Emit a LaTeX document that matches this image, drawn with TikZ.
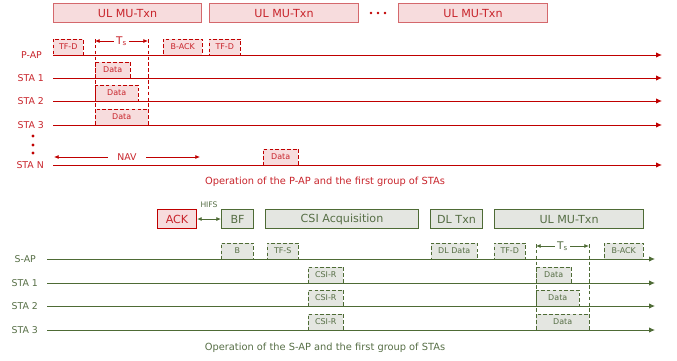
\documentclass[tikz,border=0pt]{standalone}
\usepackage{fontspec}
\setmainfont{DejaVu Sans}
\usetikzlibrary{arrows.meta,positioning}
\definecolor{apred}{HTML}{C00000}
\definecolor{aptext}{HTML}{C8242B}
\definecolor{apfill}{HTML}{F7DCDD}
\definecolor{apline}{HTML}{D4686C}
\definecolor{sapgreen}{HTML}{4E6B35}
\definecolor{saptext}{HTML}{566E45}
\definecolor{sapfill}{HTML}{E4E6E1}
\newlength\pxu
\setlength\pxu{0.03cm}

\tikzset{
  redphase/.style={draw=apline, fill=apfill, text=aptext, line width=0.9pt,
    anchor=north west, minimum height=19\pxu, inner sep=0pt,
    font=\fontsize{9.5}{10}\selectfont},
  greenphase/.style={draw=sapgreen, fill=sapfill, text=saptext, line width=0.9pt,
    anchor=north west, minimum height=19\pxu, inner sep=0pt,
    font=\fontsize{9.5}{10}\selectfont},
  redframe/.style={draw=apred, densely dashed, fill=apfill, text=aptext,
    anchor=south west, minimum height=16\pxu, inner sep=0pt,
    font=\fontsize{6.8}{7}\selectfont},
  greenframe/.style={draw=sapgreen, densely dashed, fill=sapfill, text=saptext,
    anchor=south west, minimum height=16\pxu, inner sep=0pt,
    font=\fontsize{6.8}{7}\selectfont},
  redrow/.style={anchor=east, text=aptext, font=\fontsize{8}{9}\selectfont},
  greenrow/.style={anchor=east, text=saptext, font=\fontsize{8}{9}\selectfont},
  redaxis/.style={draw=apred, line width=0.8pt, -{Latex[length=5pt,width=4.5pt]}},
  greenaxis/.style={draw=sapgreen, line width=0.8pt, -{Latex[length=5pt,width=4.5pt]}},
  redspan/.style={draw=apred, line width=0.7pt, {Latex[length=4pt,width=3.5pt]}-{Latex[length=4pt,width=3.5pt]}},
  greenspan/.style={draw=sapgreen, line width=0.7pt, {Latex[length=4pt,width=3.5pt]}-{Latex[length=4pt,width=3.5pt]}},
  caption/.style={font=\fontsize{8.4}{9}\selectfont}
}

\begin{document}
\begin{tikzpicture}[x=0.03cm, y=-0.03cm]
\useasboundingbox (0,0) rectangle (677,360);

% P-AP and its group
\node[redphase, minimum width=148\pxu] (ulmu1) at (53,3) {UL MU-Txn};
\node[redphase, minimum width=149\pxu] (ulmu2) at (209,3) {UL MU-Txn};
\node[redphase, minimum width=149\pxu] (ulmu3) at (398,3) {UL MU-Txn};
\foreach \x in {371,378,385}
  \fill[apred] (\x,13) circle (1.2pt);

\foreach \name/\lab/\y/\lx in {pap/P-AP/55/46, sta1/STA 1/78/48, sta2/STA 2/101/48, sta3/STA 3/125/48, stan/STA N/165/48} {
  \node[redrow] (\name) at (\lx,\y) {\lab};
  \coordinate (\name-s) at (53,\y);
  \coordinate (\name-e) at (662,\y);
  \draw[redaxis] (\name-s) -- (\name-e);
}
\foreach \y in {136,145,153}
  \fill[apred] (33,\y) circle (1.4pt);

\node[redframe, minimum width=30\pxu] (tfd1) at (53,55) {TF-D};
\node[redframe, minimum width=39\pxu] (back1) at (163,55) {B-ACK};
\node[redframe, minimum width=31\pxu] (tfd2) at (209,55) {TF-D};
\node[redframe, minimum width=35\pxu] (data1) at (95,78) {Data};
\node[redframe, minimum width=43\pxu] (data2) at (95,101) {Data};
\node[redframe, minimum width=53\pxu] (data3) at (95,125) {Data};
\node[redframe, minimum width=35\pxu] (datan) at (263,165) {Data};

\coordinate (tsa) at (95,39);
\coordinate (tsb) at (148,39);
\coordinate (tsc) at (95,125);
\coordinate (tsd) at (148,125);
\draw[apred, densely dashed, line width=0.6pt] (tsa) -- (tsc);
\draw[apred, densely dashed, line width=0.6pt] (tsb) -- (tsd);
\coordinate (tsl) at (95,41);
\coordinate (tsr) at (148,41);
\draw[redspan] (tsl) -- (tsr) node[midway, fill=white, inner sep=1.5pt, text=aptext, font=\fontsize{9}{9}\selectfont] {T\textsubscript{s}};

\coordinate (nava) at (54,157);
\coordinate (navb) at (200,157);
\draw[redspan] (nava) -- (navb) node[midway, fill=white, inner xsep=8pt, inner ysep=1pt, text=aptext, font=\fontsize{8}{8}\selectfont] {NAV};

\node[caption, text=aptext] (cap1) at (325,182) {Operation of the P-AP and the first group of STAs};

% S-AP and its group
\node[redphase, draw=apred, minimum width=39\pxu] (ack) at (157,209) {ACK};
\node[greenphase, minimum width=32\pxu] (bf) at (221,209) {BF};
\node[greenphase, minimum width=153\pxu] (csi) at (265,209) {CSI Acquisition};
\node[greenphase, minimum width=52\pxu] (dltxn) at (430,209) {DL Txn};
\node[greenphase, minimum width=149\pxu] (ulmu4) at (494,209) {UL MU-Txn};
\draw[greenspan] (ack) -- (bf) node[midway, above=6pt, text=saptext, font=\fontsize{6.5}{7}\selectfont] {HIFS};

\foreach \name/\lab/\y/\lx in {sap/S-AP/259/40, gsta1/STA 1/283/42, gsta2/STA 2/306/42, gsta3/STA 3/330/42} {
  \node[greenrow] (\name) at (\lx,\y) {\lab};
  \coordinate (\name-s) at (47,\y);
  \coordinate (\name-e) at (655,\y);
  \draw[greenaxis] (\name-s) -- (\name-e);
}

\node[greenframe, minimum width=32\pxu] (bfrm) at (221,259) {B};
\node[greenframe, minimum width=31\pxu] (tfs) at (267,259) {TF-S};
\node[greenframe, minimum width=35\pxu] (csir1) at (308,283) {CSI-R};
\node[greenframe, minimum width=35\pxu] (csir2) at (308,306) {CSI-R};
\node[greenframe, minimum width=35\pxu] (csir3) at (308,330) {CSI-R};
\node[greenframe, minimum width=46\pxu] (dldata) at (431,259) {DL Data};
\node[greenframe, minimum width=31\pxu] (tfd3) at (494,259) {TF-D};
\node[greenframe, minimum width=39\pxu] (back2) at (604,259) {B-ACK};
\node[greenframe, minimum width=35\pxu] (gdata1) at (536,283) {Data};
\node[greenframe, minimum width=43\pxu] (gdata2) at (536,306) {Data};
\node[greenframe, minimum width=53\pxu] (gdata3) at (536,330) {Data};

\coordinate (gtsa) at (536,244);
\coordinate (gtsb) at (589,244);
\coordinate (gtsc) at (536,330);
\coordinate (gtsd) at (589,330);
\draw[sapgreen, densely dashed, line width=0.6pt] (gtsa) -- (gtsc);
\draw[sapgreen, densely dashed, line width=0.6pt] (gtsb) -- (gtsd);
\coordinate (gtsl) at (536,246);
\coordinate (gtsr) at (589,246);
\draw[greenspan] (gtsl) -- (gtsr) node[midway, fill=white, inner sep=1.5pt, text=saptext, font=\fontsize{9}{9}\selectfont] {T\textsubscript{s}};

\node[caption, text=saptext] (cap2) at (325,348) {Operation of the S-AP and the first group of STAs};
\end{tikzpicture}
\end{document}
